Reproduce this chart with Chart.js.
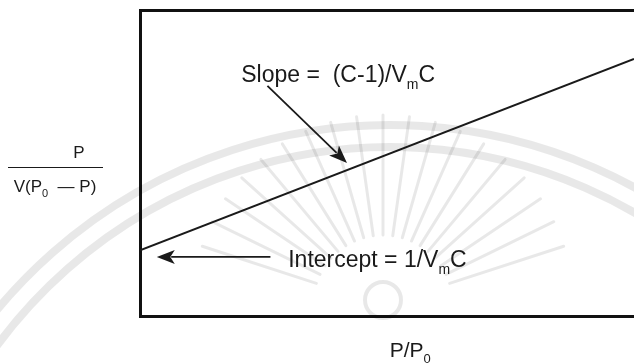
<!DOCTYPE html>
<html lang="en">
<head>
  <meta charset="UTF-8" />
  <title>BET plot</title>
  <script src="https://cdn.jsdelivr.net/npm/chart.js"></script>
  <style>
    html, body { margin: 0; padding: 0; background: #fff; }
    canvas { display: block; }
  </style>
</head>
<body>
  <canvas id="bet" width="634" height="363"></canvas>

  <script>
    // straight BET line, x = P/P0, y = P / V(P0 - P)
    const xValues = [0, 1];
    const yValues = [0.215, 0.84];

    const xLabel = ['P/P', '0'];
    const yNumerator = 'P';
    const yDenominator = [['V(P', false], ['0', true], ['  \u2014 P)', false]];
    const slopeText = [['Slope =  (C-1)/V', false], ['m', true], ['C', false]];
    const interceptText = [['Intercept = 1/V', false], ['m', true], ['C', false]];

    const FONT = '"Liberation Sans", Arial, sans-serif';

    function drawRich(ctx, parts, x, y, size, align) {
      const sub = Math.round(size * 0.62);
      let total = 0;
      parts.forEach(([t, s]) => {
        ctx.font = (s ? sub : size) + 'px ' + FONT;
        total += ctx.measureText(t).width;
      });
      let cx = align === 'center' ? x - total / 2 : x;
      ctx.textAlign = 'left';
      ctx.textBaseline = 'alphabetic';
      parts.forEach(([t, s]) => {
        ctx.font = (s ? sub : size) + 'px ' + FONT;
        ctx.fillText(t, cx, s ? y + size * 0.3 : y);
        cx += ctx.measureText(t).width;
      });
    }

    function arrow(ctx, x1, y1, x2, y2) {
      const a = Math.atan2(y2 - y1, x2 - x1);
      const len = 18, half = 7;
      ctx.beginPath();
      ctx.moveTo(x1, y1);
      ctx.lineTo(x2 - Math.cos(a) * len * 0.8, y2 - Math.sin(a) * len * 0.8);
      ctx.stroke();
      ctx.beginPath();
      ctx.moveTo(x2, y2);
      ctx.lineTo(x2 - Math.cos(a) * len + Math.sin(a) * half, y2 - Math.sin(a) * len - Math.cos(a) * half);
      ctx.lineTo(x2 - Math.cos(a) * len * 0.75, y2 - Math.sin(a) * len * 0.75);
      ctx.lineTo(x2 - Math.cos(a) * len - Math.sin(a) * half, y2 - Math.sin(a) * len + Math.cos(a) * half);
      ctx.closePath();
      ctx.fill();
    }

    // faint emblem in the background of the scanned page
    const watermark = {
      id: 'watermark',
      beforeDatasetsDraw(chart) {
        const ctx = chart.ctx;
        ctx.save();
        ctx.strokeStyle = 'rgba(0,0,0,0.09)';
        ctx.lineCap = 'round';
        ctx.lineWidth = 8;
        [510, 488].forEach(r => {
          ctx.beginPath();
          ctx.arc(390, 635, r, Math.PI * 1.02, Math.PI * 1.98);
          ctx.stroke();
        });
        ctx.lineWidth = 3;
        for (let i = 0; i <= 18; i++) {
          const a = Math.PI * (1.1 + i * 0.8 / 18);
          ctx.beginPath();
          ctx.moveTo(383 + Math.cos(a) * 70, 305 + Math.sin(a) * 70);
          ctx.lineTo(383 + Math.cos(a) * 190, 305 + Math.sin(a) * 190);
          ctx.stroke();
        }
        ctx.lineWidth = 4;
        ctx.beginPath();
        ctx.arc(383, 300, 18, 0, Math.PI * 2);
        ctx.stroke();
        ctx.restore();
      }
    };

    const notes = {
      id: 'notes',
      afterDatasetsDraw(chart) {
        const ctx = chart.ctx;
        const xs = chart.scales.x, ys = chart.scales.y;
        const px = v => xs.getPixelForValue(v);
        const py = v => ys.getPixelForValue(v);
        ctx.save();
        ctx.fillStyle = '#1a1a1a';
        ctx.strokeStyle = '#1a1a1a';
        ctx.lineWidth = 1.8;

        drawRich(ctx, slopeText, px(0.205), py(0.765), 23, 'left');
        arrow(ctx, px(0.258), py(0.752), px(0.419), py(0.5));

        drawRich(ctx, interceptText, px(0.3), py(0.16), 23, 'left');
        arrow(ctx, px(0.264), py(0.193), px(0.034), py(0.193));

        // x axis title
        drawRich(ctx, [[xLabel[0], false], [xLabel[1], true]], px(0.547), 357, 21, 'center');

        // y axis title as a fraction
        ctx.font = '17px ' + FONT;
        ctx.textAlign = 'center';
        ctx.fillText(yNumerator, 79, 158);
        ctx.lineWidth = 1;
        ctx.beginPath();
        ctx.moveTo(8, 167.5);
        ctx.lineTo(103, 167.5);
        ctx.stroke();
        drawRich(ctx, yDenominator, 55, 192, 17, 'center');
        ctx.restore();
      }
    };

    const edge = { display: true, color: '#111', width: 3 };
    const flatGrid = { display: true, drawOnChartArea: false, drawTicks: false };

    new Chart(document.getElementById('bet'), {
      type: 'scatter',
      data: {
        datasets: [{
          data: xValues.map((x, i) => ({ x: x, y: yValues[i] })),
          showLine: true,
          borderColor: '#1a1a1a',
          borderWidth: 2,
          pointRadius: 0
        }]
      },
      options: {
        responsive: false,
        animation: false,
        devicePixelRatio: 1,
        layout: { padding: { left: 140, top: 10, right: 0, bottom: 47 } },
        plugins: { legend: { display: false }, tooltip: { enabled: false } },
        scales: {
          x: {
            type: 'linear', position: 'bottom', min: 0, max: 1,
            ticks: { display: false }, grid: flatGrid, border: edge,
            afterFit: s => { s.height = 0; }
          },
          x2: {
            type: 'linear', axis: 'x', position: 'top', min: 0, max: 1,
            ticks: { display: false }, grid: flatGrid, border: edge,
            afterFit: s => { s.height = 0; }
          },
          y: {
            type: 'linear', position: 'left', min: 0, max: 1,
            ticks: { display: false }, grid: flatGrid, border: edge,
            afterFit: s => { s.width = 0; }
          }
        }
      },
      plugins: [watermark, notes]
    });
  </script>
</body>
</html>
